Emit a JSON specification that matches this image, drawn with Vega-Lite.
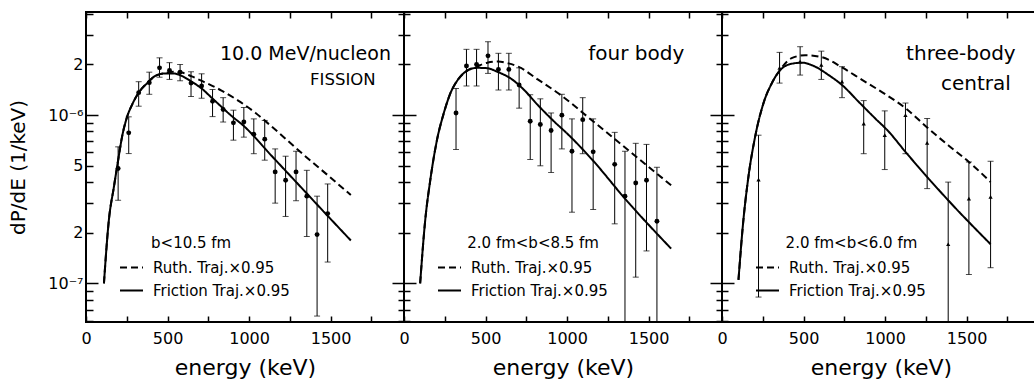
{
  "$schema": "https://vega.github.io/schema/vega-lite/v6.json",
  "background": "white",
  "padding": {"left": 7, "top": 10, "right": 0, "bottom": 0},
  "bounds": "flush",
  "spacing": 0,
  "config": {
    "view": {"stroke": "black", "strokeWidth": 2},
    "axis": {
      "grid": false, "domain": false, "tickColor": "black", "tickWidth": 1.5,
      "labelFont": "DejaVu Sans", "labelFontSize": 16, "labelColor": "black", "labelFlush": false,
      "titleFont": "DejaVu Sans", "titleFontWeight": "normal", "titleColor": "black"
    },
    "text": {"font": "DejaVu Sans", "color": "black"}
  },
  "datasets": {
    "fission_pts": [
      {"e": 197, "v": 4.82e-7, "lo": 3.12e-7, "hi": 6.48e-7},
      {"e": 262, "v": 7.85e-7, "lo": 5.91e-7, "hi": 9.77e-7},
      {"e": 323, "v": 1.36e-6, "lo": 1.13e-6, "hi": 1.58e-6},
      {"e": 388, "v": 1.56e-6, "lo": 1.33e-6, "hi": 1.80e-6},
      {"e": 451, "v": 1.91e-6, "lo": 1.68e-6, "hi": 2.19e-6},
      {"e": 512, "v": 1.84e-6, "lo": 1.63e-6, "hi": 2.05e-6},
      {"e": 577, "v": 1.80e-6, "lo": 1.60e-6, "hi": 2.00e-6},
      {"e": 644, "v": 1.55e-6, "lo": 1.29e-6, "hi": 1.81e-6},
      {"e": 709, "v": 1.49e-6, "lo": 1.26e-6, "hi": 1.76e-6},
      {"e": 776, "v": 1.21e-6, "lo": 9.8e-7, "hi": 1.42e-6},
      {"e": 841, "v": 1.08e-6, "lo": 9.1e-7, "hi": 1.27e-6},
      {"e": 904, "v": 9.0e-7, "lo": 7.1e-7, "hi": 1.07e-6},
      {"e": 968, "v": 9.1e-7, "lo": 7.4e-7, "hi": 1.11e-6},
      {"e": 1029, "v": 7.7e-7, "lo": 5.9e-7, "hi": 9.5e-7},
      {"e": 1096, "v": 7.2e-7, "lo": 5.4e-7, "hi": 9.3e-7},
      {"e": 1160, "v": 4.6e-7, "lo": 3.0e-7, "hi": 6.3e-7},
      {"e": 1224, "v": 4.1e-7, "lo": 2.5e-7, "hi": 5.7e-7},
      {"e": 1288, "v": 4.6e-7, "lo": 3.1e-7, "hi": 6.1e-7},
      {"e": 1354, "v": 3.3e-7, "lo": 1.9e-7, "hi": 4.7e-7},
      {"e": 1417, "v": 1.95e-7, "lo": 6.4e-8, "hi": 3.3e-7},
      {"e": 1482, "v": 2.6e-7, "lo": 1.34e-7, "hi": 3.9e-7}
    ],
    "fission_curves": [
      {"model": "Friction Traj.×0.95", "e": 110, "v": 1.0e-7},
      {"model": "Friction Traj.×0.95", "e": 140, "v": 2.37e-7},
      {"model": "Friction Traj.×0.95", "e": 171, "v": 3.74e-7},
      {"model": "Friction Traj.×0.95", "e": 197, "v": 5.39e-7},
      {"model": "Friction Traj.×0.95", "e": 221, "v": 7.43e-7},
      {"model": "Friction Traj.×0.95", "e": 252, "v": 9.77e-7},
      {"model": "Friction Traj.×0.95", "e": 282, "v": 1.15e-6},
      {"model": "Friction Traj.×0.95", "e": 323, "v": 1.36e-6},
      {"model": "Friction Traj.×0.95", "e": 374, "v": 1.545e-6},
      {"model": "Friction Traj.×0.95", "e": 425, "v": 1.71e-6},
      {"model": "Friction Traj.×0.95", "e": 486, "v": 1.77e-6},
      {"model": "Friction Traj.×0.95", "e": 537, "v": 1.77e-6},
      {"model": "Friction Traj.×0.95", "e": 587, "v": 1.71e-6},
      {"model": "Friction Traj.×0.95", "e": 648, "v": 1.58e-6},
      {"model": "Friction Traj.×0.95", "e": 709, "v": 1.44e-6},
      {"model": "Friction Traj.×0.95", "e": 770, "v": 1.27e-6},
      {"model": "Friction Traj.×0.95", "e": 831, "v": 1.12e-6},
      {"model": "Friction Traj.×0.95", "e": 892, "v": 9.9e-7},
      {"model": "Friction Traj.×0.95", "e": 963, "v": 8.7e-7},
      {"model": "Friction Traj.×0.95", "e": 1136, "v": 5.76e-7},
      {"model": "Friction Traj.×0.95", "e": 1340, "v": 3.54e-7},
      {"model": "Friction Traj.×0.95", "e": 1482, "v": 2.52e-7},
      {"model": "Friction Traj.×0.95", "e": 1624, "v": 1.80e-7},
      {"model": "Ruth. Traj.×0.95", "e": 110, "v": 1.0e-7},
      {"model": "Ruth. Traj.×0.95", "e": 140, "v": 2.37e-7},
      {"model": "Ruth. Traj.×0.95", "e": 171, "v": 3.74e-7},
      {"model": "Ruth. Traj.×0.95", "e": 197, "v": 5.39e-7},
      {"model": "Ruth. Traj.×0.95", "e": 221, "v": 7.43e-7},
      {"model": "Ruth. Traj.×0.95", "e": 252, "v": 9.77e-7},
      {"model": "Ruth. Traj.×0.95", "e": 282, "v": 1.15e-6},
      {"model": "Ruth. Traj.×0.95", "e": 323, "v": 1.36e-6},
      {"model": "Ruth. Traj.×0.95", "e": 374, "v": 1.55e-6},
      {"model": "Ruth. Traj.×0.95", "e": 425, "v": 1.71e-6},
      {"model": "Ruth. Traj.×0.95", "e": 486, "v": 1.78e-6},
      {"model": "Ruth. Traj.×0.95", "e": 537, "v": 1.81e-6},
      {"model": "Ruth. Traj.×0.95", "e": 587, "v": 1.79e-6},
      {"model": "Ruth. Traj.×0.95", "e": 648, "v": 1.70e-6},
      {"model": "Ruth. Traj.×0.95", "e": 720, "v": 1.58e-6},
      {"model": "Ruth. Traj.×0.95", "e": 831, "v": 1.40e-6},
      {"model": "Ruth. Traj.×0.95", "e": 933, "v": 1.22e-6},
      {"model": "Ruth. Traj.×0.95", "e": 1040, "v": 1.03e-6},
      {"model": "Ruth. Traj.×0.95", "e": 1136, "v": 8.6e-7},
      {"model": "Ruth. Traj.×0.95", "e": 1340, "v": 5.75e-7},
      {"model": "Ruth. Traj.×0.95", "e": 1482, "v": 4.4e-7},
      {"model": "Ruth. Traj.×0.95", "e": 1624, "v": 3.35e-7}
    ],
    "four_pts": [
      {"e": 319, "v": 1.03e-6, "lo": 6.25e-7, "hi": 1.44e-6},
      {"e": 383, "v": 1.96e-6, "lo": 1.49e-6, "hi": 2.46e-6},
      {"e": 445, "v": 2.0e-6, "lo": 1.49e-6, "hi": 2.46e-6},
      {"e": 515, "v": 2.25e-6, "lo": 1.77e-6, "hi": 2.73e-6},
      {"e": 579, "v": 1.87e-6, "lo": 1.41e-6, "hi": 2.33e-6},
      {"e": 643, "v": 1.87e-6, "lo": 1.41e-6, "hi": 2.33e-6},
      {"e": 706, "v": 1.51e-6, "lo": 1.10e-6, "hi": 1.91e-6},
      {"e": 774, "v": 9.2e-7, "lo": 5.45e-7, "hi": 1.32e-6},
      {"e": 836, "v": 8.8e-7, "lo": 5.0e-7, "hi": 1.25e-6},
      {"e": 902, "v": 8.1e-7, "lo": 4.56e-7, "hi": 1.03e-6},
      {"e": 968, "v": 1.0e-6, "lo": 6.3e-7, "hi": 1.33e-6},
      {"e": 1030, "v": 6.1e-7, "lo": 2.65e-7, "hi": 9.5e-7},
      {"e": 1096, "v": 9.4e-7, "lo": 5.9e-7, "hi": 1.27e-6},
      {"e": 1160, "v": 6.05e-7, "lo": 2.75e-7, "hi": 9.5e-7},
      {"e": 1292, "v": 5.1e-7, "lo": 2.26e-7, "hi": 7.9e-7},
      {"e": 1355, "v": 3.3e-7, "lo": 3.0e-8, "hi": 6.1e-7},
      {"e": 1421, "v": 3.95e-7, "lo": 1.09e-7, "hi": 6.8e-7},
      {"e": 1487, "v": 4.1e-7, "lo": 1.56e-7, "hi": 6.7e-7},
      {"e": 1551, "v": 2.34e-7, "lo": 3.0e-8, "hi": 4.9e-7}
    ],
    "four_curves": [
      {"model": "Friction Traj.×0.95", "e": 99, "v": 1.0e-7},
      {"model": "Friction Traj.×0.95", "e": 130, "v": 2.37e-7},
      {"model": "Friction Traj.×0.95", "e": 161, "v": 4.1e-7},
      {"model": "Friction Traj.×0.95", "e": 202, "v": 7.1e-7},
      {"model": "Friction Traj.×0.95", "e": 243, "v": 1.02e-6},
      {"model": "Friction Traj.×0.95", "e": 284, "v": 1.345e-6},
      {"model": "Friction Traj.×0.95", "e": 336, "v": 1.65e-6},
      {"model": "Friction Traj.×0.95", "e": 387, "v": 1.835e-6},
      {"model": "Friction Traj.×0.95", "e": 449, "v": 1.91e-6},
      {"model": "Friction Traj.×0.95", "e": 511, "v": 1.90e-6},
      {"model": "Friction Traj.×0.95", "e": 572, "v": 1.81e-6},
      {"model": "Friction Traj.×0.95", "e": 655, "v": 1.65e-6},
      {"model": "Friction Traj.×0.95", "e": 737, "v": 1.41e-6},
      {"model": "Friction Traj.×0.95", "e": 820, "v": 1.15e-6},
      {"model": "Friction Traj.×0.95", "e": 923, "v": 9.12e-7},
      {"model": "Friction Traj.×0.95", "e": 1005, "v": 7.7e-7},
      {"model": "Friction Traj.×0.95", "e": 1153, "v": 5.45e-7},
      {"model": "Friction Traj.×0.95", "e": 1360, "v": 3.15e-7},
      {"model": "Friction Traj.×0.95", "e": 1638, "v": 1.61e-7},
      {"model": "Ruth. Traj.×0.95", "e": 99, "v": 1.0e-7},
      {"model": "Ruth. Traj.×0.95", "e": 130, "v": 2.37e-7},
      {"model": "Ruth. Traj.×0.95", "e": 161, "v": 4.1e-7},
      {"model": "Ruth. Traj.×0.95", "e": 202, "v": 7.1e-7},
      {"model": "Ruth. Traj.×0.95", "e": 243, "v": 1.02e-6},
      {"model": "Ruth. Traj.×0.95", "e": 284, "v": 1.345e-6},
      {"model": "Ruth. Traj.×0.95", "e": 336, "v": 1.65e-6},
      {"model": "Ruth. Traj.×0.95", "e": 387, "v": 1.84e-6},
      {"model": "Ruth. Traj.×0.95", "e": 449, "v": 1.95e-6},
      {"model": "Ruth. Traj.×0.95", "e": 511, "v": 2.05e-6},
      {"model": "Ruth. Traj.×0.95", "e": 577, "v": 2.08e-6},
      {"model": "Ruth. Traj.×0.95", "e": 640, "v": 2.03e-6},
      {"model": "Ruth. Traj.×0.95", "e": 701, "v": 1.94e-6},
      {"model": "Ruth. Traj.×0.95", "e": 820, "v": 1.63e-6},
      {"model": "Ruth. Traj.×0.95", "e": 948, "v": 1.345e-6},
      {"model": "Ruth. Traj.×0.95", "e": 1153, "v": 9.3e-7},
      {"model": "Ruth. Traj.×0.95", "e": 1411, "v": 5.8e-7},
      {"model": "Ruth. Traj.×0.95", "e": 1638, "v": 3.83e-7}
    ],
    "three_pts": [
      {"e": 224, "v": 4.14e-7, "lo": 8.3e-8, "hi": 7.6e-7},
      {"e": 353, "v": 1.91e-6, "lo": 1.55e-6, "hi": 2.36e-6},
      {"e": 479, "v": 2.08e-6, "lo": 1.73e-6, "hi": 2.55e-6},
      {"e": 609, "v": 1.99e-6, "lo": 1.63e-6, "hi": 2.40e-6},
      {"e": 736, "v": 1.58e-6, "lo": 1.27e-6, "hi": 1.94e-6},
      {"e": 869, "v": 8.9e-7, "lo": 5.9e-7, "hi": 1.22e-6},
      {"e": 998, "v": 7.6e-7, "lo": 4.75e-7, "hi": 1.06e-6},
      {"e": 1125, "v": 1.0e-6, "lo": 5.9e-7, "hi": 1.18e-6},
      {"e": 1258, "v": 6.84e-7, "lo": 3.66e-7, "hi": 9.55e-7},
      {"e": 1387, "v": 1.71e-7, "lo": 3.0e-8, "hi": 4.0e-7},
      {"e": 1514, "v": 3.19e-7, "lo": 1.13e-7, "hi": 5.27e-7},
      {"e": 1647, "v": 3.27e-7, "lo": 1.24e-7, "hi": 5.32e-7}
    ],
    "three_curves": [
      {"model": "Friction Traj.×0.95", "e": 101, "v": 1.05e-7},
      {"model": "Friction Traj.×0.95", "e": 131, "v": 2.37e-7},
      {"model": "Friction Traj.×0.95", "e": 162, "v": 4.3e-7},
      {"model": "Friction Traj.×0.95", "e": 203, "v": 7.43e-7},
      {"model": "Friction Traj.×0.95", "e": 254, "v": 1.175e-6},
      {"model": "Friction Traj.×0.95", "e": 305, "v": 1.545e-6},
      {"model": "Friction Traj.×0.95", "e": 357, "v": 1.85e-6},
      {"model": "Friction Traj.×0.95", "e": 418, "v": 2.01e-6},
      {"model": "Friction Traj.×0.95", "e": 490, "v": 2.05e-6},
      {"model": "Friction Traj.×0.95", "e": 562, "v": 1.96e-6},
      {"model": "Friction Traj.×0.95", "e": 654, "v": 1.73e-6},
      {"model": "Friction Traj.×0.95", "e": 736, "v": 1.51e-6},
      {"model": "Friction Traj.×0.95", "e": 838, "v": 1.20e-6},
      {"model": "Friction Traj.×0.95", "e": 940, "v": 9.55e-7},
      {"model": "Friction Traj.×0.95", "e": 1018, "v": 8.06e-7},
      {"model": "Friction Traj.×0.95", "e": 1125, "v": 6.05e-7},
      {"model": "Friction Traj.×0.95", "e": 1387, "v": 3.12e-7},
      {"model": "Friction Traj.×0.95", "e": 1647, "v": 1.71e-7},
      {"model": "Ruth. Traj.×0.95", "e": 101, "v": 1.05e-7},
      {"model": "Ruth. Traj.×0.95", "e": 131, "v": 2.37e-7},
      {"model": "Ruth. Traj.×0.95", "e": 162, "v": 4.3e-7},
      {"model": "Ruth. Traj.×0.95", "e": 203, "v": 7.43e-7},
      {"model": "Ruth. Traj.×0.95", "e": 254, "v": 1.175e-6},
      {"model": "Ruth. Traj.×0.95", "e": 305, "v": 1.545e-6},
      {"model": "Ruth. Traj.×0.95", "e": 357, "v": 1.86e-6},
      {"model": "Ruth. Traj.×0.95", "e": 427, "v": 2.18e-6},
      {"model": "Ruth. Traj.×0.95", "e": 510, "v": 2.27e-6},
      {"model": "Ruth. Traj.×0.95", "e": 613, "v": 2.21e-6},
      {"model": "Ruth. Traj.×0.95", "e": 736, "v": 1.92e-6},
      {"model": "Ruth. Traj.×0.95", "e": 859, "v": 1.62e-6},
      {"model": "Ruth. Traj.×0.95", "e": 1002, "v": 1.33e-6},
      {"model": "Ruth. Traj.×0.95", "e": 1125, "v": 1.10e-6},
      {"model": "Ruth. Traj.×0.95", "e": 1258, "v": 8.45e-7},
      {"model": "Ruth. Traj.×0.95", "e": 1387, "v": 6.62e-7},
      {"model": "Ruth. Traj.×0.95", "e": 1514, "v": 5.27e-7},
      {"model": "Ruth. Traj.×0.95", "e": 1647, "v": 4.01e-7}
    ]
  },
  "hconcat": [
    {
      "width": 318, "height": 310,
      "layer": [
        {
          "data": {"name": "fission_curves"},
          "mark": {"type": "line", "interpolate": "monotone", "color": "black", "strokeWidth": 2},
          "encoding": {
            "x": {"field": "e", "type": "quantitative", "scale": {"domain": [0, 1950], "nice": false, "zero": false},
                  "axis": {"orient": "top", "values": [0, 250, 500, 750, 1000, 1250, 1500, 1750], "labels": false, "tickSize": -6, "title": null}},
            "y": {"field": "v", "type": "quantitative", "scale": {"type": "log", "domain": [5.9e-8, 4.1e-6], "nice": false},
                  "axis": {"orient": "right", "values": [6e-8, 7e-8, 8e-8, 9e-8, 1e-7, 2e-7, 3e-7, 4e-7, 5e-7, 6e-7, 7e-7, 8e-7, 9e-7, 1e-6, 2e-6, 3e-6, 4e-6], "labels": false, "title": null,
                           "tickSize": {"condition": {"test": "abs(log(datum.value)/LN10 - round(log(datum.value)/LN10)) < 0.01", "value": 12}, "value": 6}}},
            "strokeDash": {"field": "model", "type": "nominal",
                           "scale": {"domain": ["Ruth. Traj.×0.95", "Friction Traj.×0.95"], "range": [[7, 4], [1, 0]]},
                           "legend": {"orient": "none", "legendX": 33, "legendY": 243, "title": null, "padding": 0,
                                      "symbolType": "stroke", "symbolSize": 529, "symbolStrokeWidth": 2, "symbolStrokeColor": "black",
                                      "labelFont": "DejaVu Sans", "labelFontSize": 15, "labelColor": "black", "labelOffset": 9, "rowPadding": 2}}
          }
        },
        {
          "data": {"name": "fission_pts"},
          "mark": {"type": "rule", "color": "black", "strokeWidth": 1, "clip": true},
          "encoding": {
            "x": {"field": "e", "type": "quantitative",
                  "axis": {"orient": "bottom", "values": [0, 250, 500, 750, 1000, 1250, 1500, 1750], "labels": false, "tickSize": -6, "title": null}},
            "y": {"field": "lo", "type": "quantitative",
                  "axis": {"orient": "left", "values": [6e-8, 7e-8, 8e-8, 9e-8, 1e-7, 2e-7, 3e-7, 4e-7, 5e-7, 6e-7, 7e-7, 8e-7, 9e-7, 1e-6, 2e-6, 3e-6, 4e-6], "labels": false, "title": null,
                           "tickSize": {"condition": {"test": "abs(log(datum.value)/LN10 - round(log(datum.value)/LN10)) < 0.01", "value": -12}, "value": -7}}},
            "y2": {"field": "hi"}
          }
        },
        {
          "data": {"name": "fission_pts"},
          "mark": {"type": "tick", "orient": "horizontal", "size": 6, "thickness": 1, "color": "black", "clip": true},
          "encoding": {
            "x": {"field": "e", "type": "quantitative", "axis": null},
            "y": {"field": "hi", "type": "quantitative", "axis": null}
          }
        },
        {
          "data": {"name": "fission_pts"},
          "mark": {"type": "tick", "orient": "horizontal", "size": 6, "thickness": 1, "color": "black", "clip": true},
          "encoding": {
            "x": {"field": "e", "type": "quantitative", "axis": null},
            "y": {"field": "lo", "type": "quantitative", "axis": null}
          }
        },
        {
          "data": {"name": "fission_pts"},
          "mark": {"type": "point", "shape": "circle", "filled": true, "size": 24, "color": "black", "opacity": 1},
          "encoding": {
            "x": {"field": "e", "type": "quantitative",
                  "axis": {"orient": "bottom", "values": [0, 500, 1000, 1500], "format": "d", "ticks": false, "labelPadding": 8,
                           "title": "energy (keV)", "titleFontSize": 22, "titleY": 52, "titleBaseline": "alphabetic"}},
            "y": {"field": "v", "type": "quantitative",
                  "axis": {"orient": "left", "values": [1e-7, 2e-7, 5e-7, 1e-6, 2e-6], "ticks": false, "labelPadding": 3, "labelFontSize": 16,
                           "labelExpr": "datum.value > 9e-7 && datum.value < 1.1e-6 ? '10⁻⁶' : datum.value > 9e-8 && datum.value < 1.1e-7 ? '10⁻⁷' : datum.value > 4e-7 && datum.value < 6e-7 ? '5' : '2'",
                           "title": "dP/dE (1/keV)", "titleFontSize": 20, "titleX": -62, "titleY": 155, "titleBaseline": "alphabetic", "titleAlign": "center"}}
          }
        },
        {
          "data": {"values": [{}]},
          "mark": {"type": "text", "text": "10.0 MeV/nucleon", "align": "right", "baseline": "alphabetic", "fontSize": 19},
          "encoding": {"x": {"datum": 1870, "type": "quantitative", "axis": null}, "y": {"datum": 2.12e-6, "type": "quantitative", "axis": null}}
        },
        {
          "data": {"values": [{}]},
          "mark": {"type": "text", "text": "FISSION", "align": "right", "baseline": "alphabetic", "fontSize": 16.5},
          "encoding": {"x": {"datum": 1776, "type": "quantitative", "axis": null}, "y": {"datum": 1.51e-6, "type": "quantitative", "axis": null}}
        },
        {
          "data": {"values": [{}]},
          "mark": {"type": "text", "text": "b<10.5 fm", "align": "left", "baseline": "alphabetic", "fontSize": 15},
          "encoding": {"x": {"datum": 399, "type": "quantitative", "axis": null}, "y": {"datum": 1.62e-7, "type": "quantitative", "axis": null}}
        }
      ],
      "resolve": {"axis": {"x": "independent", "y": "independent"}}
    },
    {
      "width": 318, "height": 310,
      "layer": [
        {
          "data": {"name": "four_curves"},
          "mark": {"type": "line", "interpolate": "monotone", "color": "black", "strokeWidth": 2},
          "encoding": {
            "x": {"field": "e", "type": "quantitative", "scale": {"domain": [0, 1950], "nice": false, "zero": false},
                  "axis": {"orient": "top", "values": [0, 250, 500, 750, 1000, 1250, 1500, 1750], "labels": false, "tickSize": -6, "title": null}},
            "y": {"field": "v", "type": "quantitative", "scale": {"type": "log", "domain": [5.9e-8, 4.1e-6], "nice": false},
                  "axis": {"orient": "right", "values": [6e-8, 7e-8, 8e-8, 9e-8, 1e-7, 2e-7, 3e-7, 4e-7, 5e-7, 6e-7, 7e-7, 8e-7, 9e-7, 1e-6, 2e-6, 3e-6, 4e-6], "labels": false, "title": null,
                           "tickSize": {"condition": {"test": "abs(log(datum.value)/LN10 - round(log(datum.value)/LN10)) < 0.01", "value": 12}, "value": 6}}},
            "strokeDash": {"field": "model", "type": "nominal",
                           "scale": {"domain": ["Ruth. Traj.×0.95", "Friction Traj.×0.95"], "range": [[7, 4], [1, 0]]},
                           "legend": {"orient": "none", "legendX": 33, "legendY": 243, "title": null, "padding": 0,
                                      "symbolType": "stroke", "symbolSize": 529, "symbolStrokeWidth": 2, "symbolStrokeColor": "black",
                                      "labelFont": "DejaVu Sans", "labelFontSize": 15, "labelColor": "black", "labelOffset": 9, "rowPadding": 2}}
          }
        },
        {
          "data": {"name": "four_pts"},
          "mark": {"type": "rule", "color": "black", "strokeWidth": 1, "clip": true},
          "encoding": {
            "x": {"field": "e", "type": "quantitative",
                  "axis": {"orient": "bottom", "values": [0, 250, 500, 750, 1000, 1250, 1500, 1750], "labels": false, "tickSize": -6, "title": null}},
            "y": {"field": "lo", "type": "quantitative",
                  "axis": {"orient": "left", "values": [6e-8, 7e-8, 8e-8, 9e-8, 1e-7, 2e-7, 3e-7, 4e-7, 5e-7, 6e-7, 7e-7, 8e-7, 9e-7, 1e-6, 2e-6, 3e-6, 4e-6], "labels": false, "title": null,
                           "tickSize": {"condition": {"test": "abs(log(datum.value)/LN10 - round(log(datum.value)/LN10)) < 0.01", "value": 12}, "value": 6}}},
            "y2": {"field": "hi"}
          }
        },
        {
          "data": {"name": "four_pts"},
          "mark": {"type": "tick", "orient": "horizontal", "size": 6, "thickness": 1, "color": "black", "clip": true},
          "encoding": {
            "x": {"field": "e", "type": "quantitative", "axis": null},
            "y": {"field": "hi", "type": "quantitative", "axis": null}
          }
        },
        {
          "data": {"name": "four_pts"},
          "mark": {"type": "tick", "orient": "horizontal", "size": 6, "thickness": 1, "color": "black", "clip": true},
          "encoding": {
            "x": {"field": "e", "type": "quantitative", "axis": null},
            "y": {"field": "lo", "type": "quantitative", "axis": null}
          }
        },
        {
          "data": {"name": "four_pts"},
          "mark": {"type": "point", "shape": "circle", "filled": true, "size": 24, "color": "black", "opacity": 1},
          "encoding": {
            "x": {"field": "e", "type": "quantitative",
                  "axis": {"orient": "bottom", "values": [0, 500, 1000, 1500], "format": "d", "ticks": false, "labelPadding": 8,
                           "title": "energy (keV)", "titleFontSize": 22, "titleY": 52, "titleBaseline": "alphabetic"}},
            "y": {"field": "v", "type": "quantitative", "axis": null}
          }
        },
        {
          "data": {"values": [{}]},
          "mark": {"type": "text", "text": "four body", "align": "right", "baseline": "alphabetic", "fontSize": 20},
          "encoding": {"x": {"datum": 1719, "type": "quantitative", "axis": null}, "y": {"datum": 2.12e-6, "type": "quantitative", "axis": null}}
        },
        {
          "data": {"values": [{}]},
          "mark": {"type": "text", "text": "2.0 fm<b<8.5 fm", "align": "left", "baseline": "alphabetic", "fontSize": 15},
          "encoding": {"x": {"datum": 388, "type": "quantitative", "axis": null}, "y": {"datum": 1.62e-7, "type": "quantitative", "axis": null}}
        }
      ],
      "resolve": {"axis": {"x": "independent", "y": "independent"}}
    },
    {
      "width": 318, "height": 310,
      "layer": [
        {
          "data": {"name": "three_curves"},
          "mark": {"type": "line", "interpolate": "monotone", "color": "black", "strokeWidth": 2},
          "encoding": {
            "x": {"field": "e", "type": "quantitative", "scale": {"domain": [0, 1950], "nice": false, "zero": false},
                  "axis": {"orient": "top", "values": [0, 250, 500, 750, 1000, 1250, 1500, 1750], "labels": false, "tickSize": -6, "title": null}},
            "y": {"field": "v", "type": "quantitative", "scale": {"type": "log", "domain": [5.9e-8, 4.1e-6], "nice": false},
                  "axis": {"orient": "right", "values": [6e-8, 7e-8, 8e-8, 9e-8, 1e-7, 2e-7, 3e-7, 4e-7, 5e-7, 6e-7, 7e-7, 8e-7, 9e-7, 1e-6, 2e-6, 3e-6, 4e-6], "labels": false, "title": null,
                           "tickSize": {"condition": {"test": "abs(log(datum.value)/LN10 - round(log(datum.value)/LN10)) < 0.01", "value": 12}, "value": 6}}},
            "strokeDash": {"field": "model", "type": "nominal",
                           "scale": {"domain": ["Ruth. Traj.×0.95", "Friction Traj.×0.95"], "range": [[7, 4], [1, 0]]},
                           "legend": {"orient": "none", "legendX": 33, "legendY": 243, "title": null, "padding": 0,
                                      "symbolType": "stroke", "symbolSize": 529, "symbolStrokeWidth": 2, "symbolStrokeColor": "black",
                                      "labelFont": "DejaVu Sans", "labelFontSize": 15, "labelColor": "black", "labelOffset": 9, "rowPadding": 2}}
          }
        },
        {
          "data": {"name": "three_pts"},
          "mark": {"type": "rule", "color": "black", "strokeWidth": 1, "clip": true},
          "encoding": {
            "x": {"field": "e", "type": "quantitative",
                  "axis": {"orient": "bottom", "values": [0, 250, 500, 750, 1000, 1250, 1500, 1750], "labels": false, "tickSize": -6, "title": null}},
            "y": {"field": "lo", "type": "quantitative",
                  "axis": {"orient": "left", "values": [6e-8, 7e-8, 8e-8, 9e-8, 1e-7, 2e-7, 3e-7, 4e-7, 5e-7, 6e-7, 7e-7, 8e-7, 9e-7, 1e-6, 2e-6, 3e-6, 4e-6], "labels": false, "title": null,
                           "tickSize": {"condition": {"test": "abs(log(datum.value)/LN10 - round(log(datum.value)/LN10)) < 0.01", "value": 12}, "value": 6}}},
            "y2": {"field": "hi"}
          }
        },
        {
          "data": {"name": "three_pts"},
          "mark": {"type": "tick", "orient": "horizontal", "size": 6, "thickness": 1, "color": "black", "clip": true},
          "encoding": {
            "x": {"field": "e", "type": "quantitative", "axis": null},
            "y": {"field": "hi", "type": "quantitative", "axis": null}
          }
        },
        {
          "data": {"name": "three_pts"},
          "mark": {"type": "tick", "orient": "horizontal", "size": 6, "thickness": 1, "color": "black", "clip": true},
          "encoding": {
            "x": {"field": "e", "type": "quantitative", "axis": null},
            "y": {"field": "lo", "type": "quantitative", "axis": null}
          }
        },
        {
          "data": {"name": "three_pts"},
          "mark": {"type": "point", "shape": "triangle-up", "filled": true, "size": 18, "color": "black", "opacity": 1},
          "encoding": {
            "x": {"field": "e", "type": "quantitative",
                  "axis": {"orient": "bottom", "values": [0, 500, 1000, 1500], "format": "d", "ticks": false, "labelPadding": 8,
                           "title": "energy (keV)", "titleFontSize": 22, "titleY": 52, "titleBaseline": "alphabetic"}},
            "y": {"field": "v", "type": "quantitative", "axis": null}
          }
        },
        {
          "data": {"values": [{}]},
          "mark": {"type": "text", "text": "three-body", "align": "right", "baseline": "alphabetic", "fontSize": 20},
          "encoding": {"x": {"datum": 1801, "type": "quantitative", "axis": null}, "y": {"datum": 2.12e-6, "type": "quantitative", "axis": null}}
        },
        {
          "data": {"values": [{}]},
          "mark": {"type": "text", "text": "central", "align": "right", "baseline": "alphabetic", "fontSize": 20},
          "encoding": {"x": {"datum": 1771, "type": "quantitative", "axis": null}, "y": {"datum": 1.41e-6, "type": "quantitative", "axis": null}}
        },
        {
          "data": {"values": [{}]},
          "mark": {"type": "text", "text": "2.0 fm<b<6.0 fm", "align": "left", "baseline": "alphabetic", "fontSize": 15},
          "encoding": {"x": {"datum": 390, "type": "quantitative", "axis": null}, "y": {"datum": 1.62e-7, "type": "quantitative", "axis": null}}
        }
      ],
      "resolve": {"axis": {"x": "independent", "y": "independent"}}
    }
  ],
  "resolve": {"scale": {"strokeDash": "independent"}, "legend": {"strokeDash": "independent"}}
}
